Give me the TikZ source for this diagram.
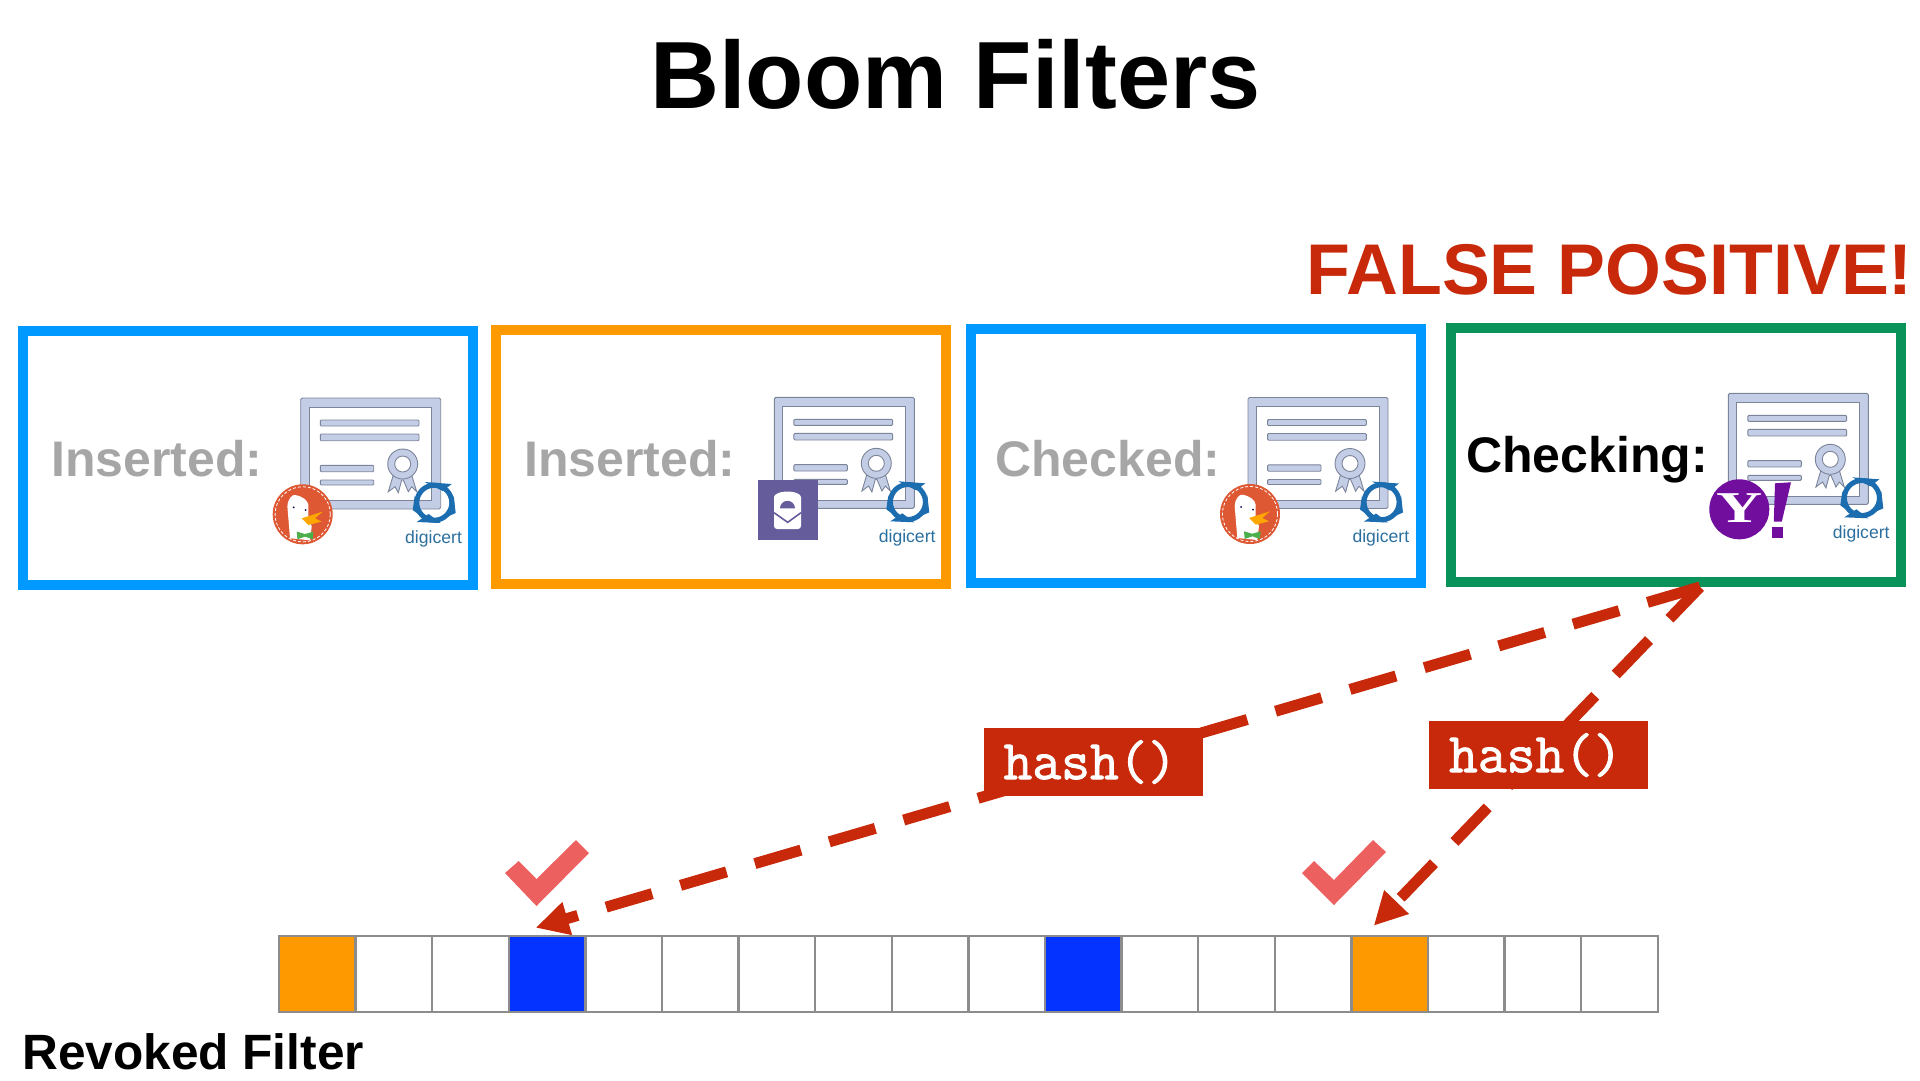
\documentclass[tikz,border=0pt]{standalone}
\usepackage{fontspec}
\setmainfont{Liberation Sans}
\setmonofont[FakeBold=1.6]{Latin Modern Mono}
\usetikzlibrary{arrows.meta}

\definecolor{boxblue}{HTML}{0099FF}
\definecolor{boxorange}{HTML}{FF9900}
\definecolor{boxgreen}{HTML}{09935A}
\definecolor{hashred}{HTML}{C8290A}
\definecolor{checkred}{HTML}{EC6060}
\definecolor{cellblue}{HTML}{0433FF}
\definecolor{cellgray}{HTML}{8C8C8C}
\definecolor{certfill}{HTML}{C3CEE6}
\definecolor{certline}{HTML}{7C8499}
\definecolor{digiblue}{HTML}{1C6CB0}
\definecolor{digitext}{HTML}{2B6F9F}
\definecolor{duckred}{HTML}{DE5833}
\definecolor{protonpurple}{HTML}{655C9B}
\definecolor{yahoopurple}{HTML}{720E9E}

\tikzset{
    certbox/.style={draw=#1, line width=10pt, minimum width=450pt, minimum height=254pt, inner sep=0pt},
    certline/.style={fill=certfill, draw=certline, line width=0.9pt, rounded corners=1pt},
    titlefont/.style={font=\fontsize{#1}{#1}\selectfont\bfseries, inner sep=0pt},
    cellbox/.style={draw=cellgray, line width=2.5pt, minimum width=76.6pt, minimum height=76pt, inner sep=0pt},
    hasharrow/.style={draw=hashred, line width=11pt, dash pattern=on 48pt off 29.5pt},
    hashbox/.style={fill=hashred, text=white, minimum width=219pt, minimum height=68pt, inner sep=0pt,
        font=\fontsize{56}{56}\selectfont\ttfamily},
    certificate/.pic={
        \path[certline, rounded corners=1.5pt] (0,0) rectangle (140,111);
        \path[fill=white, draw=certline, line width=0.9pt] (8.6,9.3) rectangle (131,102.7);
        \path[certline] (19.6,22) rectangle (118.3,28);
        \path[certline] (19.6,36) rectangle (118.3,42.7);
        \path[certline] (19.6,67.3) rectangle (73,73.7);
        \path[certline] (19.6,82) rectangle (73,87);
        \path[fill=certfill, draw=certline, line width=0.9pt] (92.6,77) -- (87.6,93.7) -- (94.3,88.7) -- (97.6,94.7) -- (101,82) -- (102.6,82)
            -- (107.6,93.7) -- (111,88.7) -- (116,93.7) -- (111,77) -- cycle;
        \draw[fill=certfill, draw=certline, line width=0.9pt] (102,66) circle (15);
        \draw[fill=white, draw=certline, line width=0.9pt] (102,66) circle (8);
        \draw[digiblue, line width=5pt] (133.6,104.7) circle (17.5);
        \fill[digiblue] (124,84) -- (151,86) -- (142,93) -- cycle;
        \fill[digiblue] (116,124) -- (128,116) -- (140,125) -- cycle;
        \fill[digiblue] (153,98) -- (155,115) -- (146,119) -- cycle;
        \fill[digiblue] (114,98) -- (120,118) -- (112,112) -- cycle;
        \node[anchor=base west, inner sep=0pt, text=digitext, font=\fontsize{17.6}{18}\selectfont] (-logo) at (104.3,145) {digicert};
    },
    duckbadge/.pic={
        \fill[duckred] (0,0) circle (30);
        \draw[white, line width=0.8pt, densely dashed] (0,0) circle (27.6);
        \fill[white] (-12.7,24) -- (-15.3,-7.7) .. controls (-15,-16) and (-10,-20) .. (-7.7,-19.3)
            .. controls (0,-18) and (5,-14) .. (5.7,-9.3) -- (5.7,2.3) -- (9,12.3) -- (7.3,26) -- cycle;
        \fill[orange!70!yellow] (-1,4) -- (20,-2.7) -- (12.3,4) -- (19,7.3) -- (5.7,10.7) -- cycle;
        \fill[green!55!black!70!white] (-6,17.3) -- (2.3,19.7) -- (10.7,17.3) -- (10,25) -- (2.3,22.3) -- (-5.3,25) -- cycle;
        \fill[black!70!blue] (-9,-7) circle (1) (3,-4.3) circle (1);
    },
    protonbadge/.pic={
        \fill[protonpurple] (0,0) rectangle (60,60);
        \fill[white, rounded corners=3pt] (16,49) -- (16,20) .. controls (16,14) and (23,11.7) .. (29.5,11.7)
            .. controls (36,11.7) and (43,14) .. (43,20) -- (43,49) -- cycle;
        \fill[protonpurple] (22,28.3) arc (180:360:7.5) -- cycle;
        \draw[protonpurple, line width=1.6pt] (16,32.7) -- (29.7,42.3) -- (43,32.7);
    },
    yahoobadge/.pic={
        \fill[yahoopurple] (0,0) circle (30);
        \node[text=white, inner sep=0pt, xscale=1.45, font=\fontsize{44}{44}\selectfont\setmainfont{Liberation Serif}\bfseries] (-letter) at (0,-1) {Y};
        \fill[yahoopurple] (35.7,-26) -- (51.7,-27) -- (42.5,12.3) -- (34.5,12.3) -- cycle;
        \fill[yahoopurple] (32.3,17.3) rectangle (43.3,29);
    }
}

\begin{document}
\begin{tikzpicture}[x=1pt, y=-1pt]
    \useasboundingbox (0,0) rectangle (1920,1080);

    \node[titlefont=95.5, anchor=base] (title) at (955.5,108) {Bloom Filters};
    \node[titlefont=71.8, anchor=base east, text=hashred] (falsepos) at (1913,294) {FALSE POSITIVE!};

    \node[certbox=boxblue] (box1) at (248,458) {};
    \node[certbox=boxorange] (box2) at (721,457) {};
    \node[certbox=boxblue] (box3) at (1195.5,455.5) {};
    \node[certbox=boxgreen] (box4) at (1676,455) {};

    \node[titlefont=50, anchor=base west, text=black!35] (text1) at (51,476) {Inserted:};
    \node[titlefont=50, anchor=base west, text=black!35] (text2) at (524,476) {Inserted:};
    \node[titlefont=50, anchor=base west, text=black!35] (text3) at (995,476) {Checked:};
    \node[titlefont=50, anchor=base west] (text4) at (1466,472) {Checking:};

    \pic (cert1) at (300.7,398) {certificate};
    \pic (cert2) at (774.3,397.3) {certificate};
    \pic (cert3) at (1248,397.5) {certificate};
    \pic (cert4) at (1728.3,393.3) {certificate};

    \pic (duck1) at (302.7,514.3) {duckbadge};
    \pic (proton) at (758,480) {protonbadge};
    \pic (duck2) at (1250,514) {duckbadge};
    \pic (yahoo) at (1739.3,509.3) {yahoobadge};

    \foreach \i/\col in {0/boxorange,1/white,2/white,3/cellblue,4/white,5/white,6/white,7/white,8/white,
                         9/white,10/cellblue,11/white,12/white,13/white,14/boxorange,15/white,16/white,17/white} {
        \node[cellbox, fill=\col] (cell\i) at ({317.3+\i*76.6},974) {};
    }

    \node[titlefont=49.6, anchor=base west] (filterlabel) at (22,1069) {Revoked Filter};

    \fill[checkred] (576,840) -- (589,853) -- (536.5,906) -- (505,873) -- (518.7,861) -- (536.5,879) -- cycle;
    \fill[checkred] (1373,840) -- (1386,852) -- (1334,905) -- (1302,873) -- (1314,861) -- (1334,880) -- cycle;

    \draw[hasharrow, {Square[length=9pt,width=11pt,sep=0pt]}-{Triangle[length=33pt,width=32pt]}]
        ([xshift=24pt]box4.south) -- ([shift={(-11.5pt,7pt)}]cell3.north);
    \draw[hasharrow, dash phase=4pt, -{Triangle[length=33pt,width=32pt]}]
        ([xshift=24pt]box4.south) -- ([shift={(-16pt,9pt)}]cell14.north);

    \node[hashbox] (hash1) at (1093,762) {hash()\hspace*{6pt}};
    \node[hashbox] (hash2) at (1538.5,755) {hash()\hspace*{6pt}};
\end{tikzpicture}
\end{document}
